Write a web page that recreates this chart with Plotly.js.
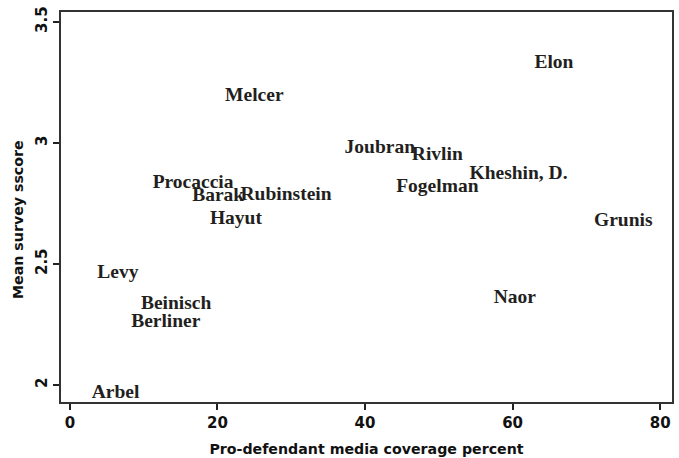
<!DOCTYPE html>
<html>
<head>
<meta charset="utf-8">
<script src="https://cdn.plot.ly/plotly-3.0.1.min.js"></script>
<style>html,body{margin:0;padding:0;background:#fff;}#chart{width:679px;height:458px;}</style>
</head>
<body>
<div id="chart"></div>
<script>
const judges = ["Elon","Melcer","Joubran","Rivlin","Kheshin, D.","Fogelman","Procaccia","Barak","Rubinstein","Hayut","Grunis","Levy","Beinisch","Berliner","Naor","Arbel"];
const mediaCoverage = [65.6, 25.0, 42.0, 49.8, 60.8, 49.8, 16.7, 20.1, 29.3, 22.5, 75.0, 6.5, 14.4, 13.0, 60.3, 6.2];
const surveyScore = [3.33, 3.192, 2.978, 2.95, 2.872, 2.818, 2.835, 2.78, 2.785, 2.686, 2.678, 2.463, 2.335, 2.258, 2.359, 1.966];
const xTicks = [0, 20, 40, 60, 80];
const xTickText = ["0", "20", "40", "60", "80"];
const yTicks = [2, 2.5, 3, 3.5];
const yTickText = ["2", "2.5", "3", "3.5"];
const xTitle = "Pro-defendant media coverage percent";
const yTitle = "Mean survey sscore";

const bold = s => "<b>" + s + "</b>";
const sans = "DejaVu Sans, sans-serif";
const trace = {
  x: mediaCoverage, y: surveyScore, text: judges.map(bold),
  mode: "text", type: "scatter", textposition: "middle center",
  textfont: {family: "Liberation Serif, Times New Roman, serif", size: 19.5, color: "#231f20"},
  hoverinfo: "none", cliponaxis: false
};
const tickFont = {family: sans, size: 15, color: "#111"};
const layout = {
  width: 679, height: 458,
  margin: {l: 61, r: 7, t: 12, b: 56},
  paper_bgcolor: "#fff", plot_bgcolor: "#fff",
  showlegend: false,
  xaxis: {
    range: [-1.2, 81.6], tickvals: xTicks, ticktext: xTickText.map(bold), ticks: "outside", ticklen: 6, tickwidth: 2, tickcolor: "#222",
    showline: true, linecolor: "#333", linewidth: 2, mirror: true, showgrid: false, zeroline: false,
    tickfont: tickFont,
    title: {text: bold(xTitle), font: {family: sans, size: 14.2, color: "#111"}, standoff: 13}
  },
  yaxis: {
    range: [1.93, 3.541], tickvals: yTicks, ticktext: yTickText.map(bold), tickangle: -90, ticks: "outside", ticklen: 6, tickwidth: 2, tickcolor: "#222",
    showline: true, linecolor: "#333", linewidth: 2, mirror: true, showgrid: false, zeroline: false,
    tickfont: tickFont
  },
  annotations: [{
    text: bold(yTitle), xref: "paper", yref: "paper", x: -43/611, y: (402-219)/390,
    xanchor: "center", yanchor: "middle", textangle: -90, showarrow: false,
    font: {family: sans, size: 14.2, color: "#111"}
  }]
};
Plotly.newPlot("chart", [trace], layout, {staticPlot: true, displayModeBar: false});
</script>
</body>
</html>
